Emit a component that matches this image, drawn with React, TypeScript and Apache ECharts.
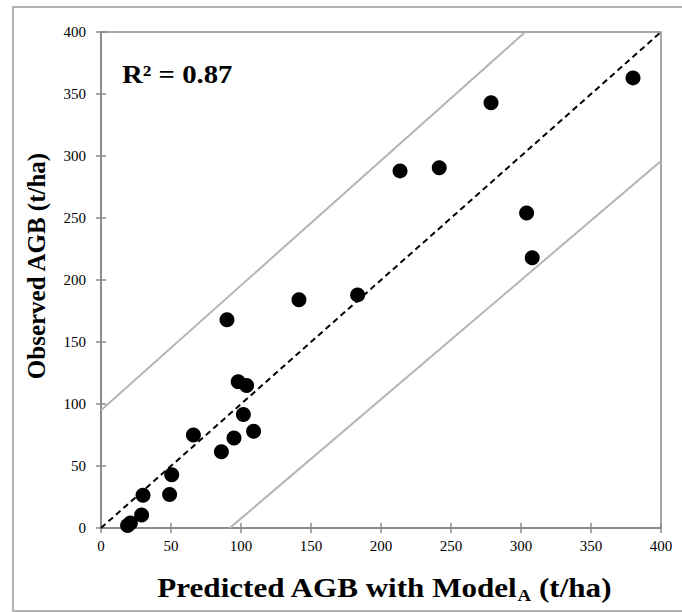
import React, { useEffect, useRef } from "react";
import * as echarts from "echarts";

const predicted = [19, 21, 29, 30, 49, 50.5, 66, 86, 95, 98, 101.7, 104, 109, 90, 141.4, 183.3, 213.6, 241.6, 278.6, 304, 308, 380];
const observed = [2, 4, 10.5, 26.5, 27, 43, 75, 61.5, 72.5, 118, 91.5, 115, 78, 168, 184, 188, 288, 290.5, 343, 254, 218, 363];
const oneToOne = [[0, 0], [400, 400]];
const upperBound = [[0, 95], [303, 400]];
const lowerBound = [[92, 0], [400, 296]];
const axisTicks = [0, 50, 100, 150, 200, 250, 300, 350, 400];

const FONT = "'Liberation Serif', 'Times New Roman', serif";
const AXIS_GRAY = "#8a8a8a";

export default function App() {
  const ref = useRef<HTMLDivElement>(null);
  useEffect(() => {
    if (!ref.current) return;
    const chart = echarts.init(ref.current, null, { renderer: "svg" });
    const points = predicted.map((p, i) => [p, observed[i]]);
    const baseAxis = (extra: any) => ({
      type: "value",
      min: axisTicks[0],
      max: axisTicks[axisTicks.length - 1],
      interval: 50,
      splitLine: { show: false },
      axisLine: { show: true, lineStyle: { color: AXIS_GRAY, width: 1.5 } },
      ...extra,
    });
    chart.setOption({
      animation: false,
      backgroundColor: "#fff",
      grid: {
        left: 101,
        top: 32,
        right: 21,
        bottom: 84,
        show: true,
        borderColor: AXIS_GRAY,
        borderWidth: 1.5,
      },
      graphic: [
        {
          type: "rect",
          shape: { x: 13, y: 7, width: 680, height: 604 },
          style: { fill: "none", stroke: "#9a9a9a", lineWidth: 1.5 },
          silent: true,
        },
        {
          type: "text",
          x: 122,
          y: 75,
          scaleX: 1.15,
          style: {
            text: "R² = 0.87",
            font: `bold 25px ${FONT}`,
            fill: "#000",
            align: "left",
            verticalAlign: "middle",
          },
        },
        {
          type: "text",
          x: 384,
          y: 588,
          scaleX: 1.11,
          style: {
            text: "{a|Predicted AGB with Model}{s|A}{a| (t/ha)}",
            align: "center",
            verticalAlign: "middle",
            rich: {
              a: { fontFamily: FONT, fontSize: 28, fontWeight: "bold", fill: "#000" },
              s: { fontFamily: FONT, fontSize: 17, fontWeight: "bold", fill: "#000", padding: [15, 0, 0, 0] },
            },
          },
        },
        {
          type: "text",
          x: 36,
          y: 266,
          rotation: Math.PI / 2,
          style: {
            text: "Observed AGB (t/ha)",
            font: `bold 25px ${FONT}`,
            fill: "#000",
            align: "center",
            verticalAlign: "middle",
          },
        },
      ],
      xAxis: [
        baseAxis({
          position: "bottom",
          axisTick: { show: true, length: 5, lineStyle: { color: AXIS_GRAY, width: 1.5 } },
          axisLabel: { fontFamily: FONT, fontSize: 15, color: "#000", margin: 10 },
        }),
        baseAxis({
          position: "bottom",
          axisTick: { show: true, inside: true, length: 5, lineStyle: { color: AXIS_GRAY, width: 1.5 } },
          axisLabel: { show: false },
        }),
      ],
      yAxis: [
        baseAxis({
          position: "left",
          axisTick: { show: true, length: 5, lineStyle: { color: AXIS_GRAY, width: 1.5 } },
          axisLabel: { fontFamily: FONT, fontSize: 15, color: "#000", margin: 15 },
        }),
        baseAxis({
          position: "left",
          axisTick: { show: true, inside: true, length: 5, lineStyle: { color: AXIS_GRAY, width: 1.5 } },
          axisLabel: { show: false },
        }),
      ],
      series: [
        {
          type: "line",
          data: upperBound,
          symbol: "none",
          lineStyle: { color: "#b4b4b4", width: 2 },
          silent: true,
        },
        {
          type: "line",
          data: lowerBound,
          symbol: "none",
          lineStyle: { color: "#b4b4b4", width: 2 },
          silent: true,
        },
        {
          type: "line",
          data: oneToOne,
          symbol: "none",
          lineStyle: { color: "#000", width: 2, type: [6, 4] },
          silent: true,
        },
        {
          type: "scatter",
          data: points,
          symbol: "circle",
          symbolSize: 15,
          itemStyle: { color: "#000", opacity: 1 },
        },
      ],
    });
    return () => chart.dispose();
  }, []);
  return (
    <div
      ref={ref}
      style={{ position: "fixed", left: 0, top: 0, width: 682, height: 612 }}
    />
  );
}
